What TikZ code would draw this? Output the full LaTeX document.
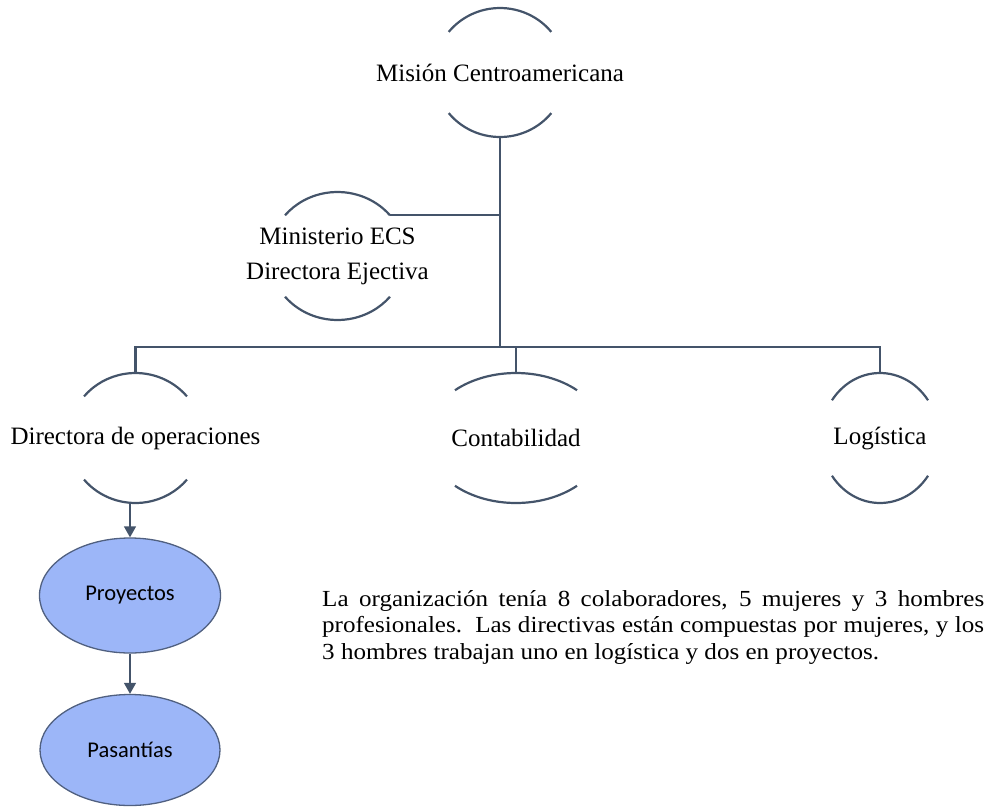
\documentclass[tikz,border=0pt]{standalone}
\usepackage{fontspec}
\setmainfont{Liberation Serif}
\newfontfamily\calfont{Carlito}
\newfontfamily\parafont[FakeStretch=1.09]{Liberation Serif}
\usetikzlibrary{shapes.geometric,arrows.meta,calc}
\definecolor{linec}{RGB}{68,84,106}
\definecolor{ellfill}{RGB}{156,182,248}
\definecolor{elldraw}{RGB}{80,96,128}
% #1 node name, #2 x radius, #3 y radius, #4 half angle from vertical
\newcommand\unitarcs[4]{%
  \draw[arcline] ($(#1.center)+({#2*sin(#4)},{#3*cos(#4)})$)
    arc[start angle={90-#4}, end angle={90+#4}, x radius=#2pt, y radius=#3pt];
  \draw[arcline] ($(#1.center)+({-#2*sin(#4)},{-#3*cos(#4)})$)
    arc[start angle={270-#4}, end angle={270+#4}, x radius=#2pt, y radius=#3pt];
}
\begin{document}
\begin{tikzpicture}[x=1pt,y=1pt,
  unitshape/.style={ellipse, inner sep=0pt, outer sep=0pt},
  unittext/.style={inner sep=0pt, align=center, font=\fontsize{25}{35}\selectfont},
  arcline/.style={draw=linec, line width=2.2pt},
  conn/.style={draw=linec, line width=2.2pt},
  bubble/.style={ellipse, draw=elldraw, line width=1.3pt, fill=ellfill, inner sep=0pt,
    font=\calfont\fontsize{22.5}{27}\selectfont},
  arr/.style={draw=linec, line width=1.3pt, -{Triangle[width=12pt,length=11pt]}},
  para/.style={anchor=north west, inner sep=0pt, text width=662pt, align=justify,
    font=\parafont\fontsize{23}{26.5}\selectfont}]
\path[use as bounding box] (0,0) rectangle (989,-807);

% units (invisible ellipses carrying the anchors)
\node[unitshape, minimum width=132pt, minimum height=129pt] (mis) at (500,-72.5) {};
\node[unitshape, minimum width=136pt, minimum height=128pt] (min) at (337.5,-256) {};
\node[unitshape, minimum width=134pt, minimum height=130pt] (dir) at (135.5,-438) {};
\node[unitshape, minimum width=180pt, minimum height=130pt] (con) at (516,-438) {};
\node[unitshape, minimum width=118pt, minimum height=130pt] (log) at (880,-438) {};

\node[unittext] (mist) at (mis.center) {Misión Centroamericana};
\node[unittext] (mint) at (min.center) {Ministerio ECS\\Directora Ejectiva};
\node[unittext] (dirt) at (dir.center) {Directora de operaciones};
\node[unittext] (cont) at (con.center) {Contabilidad};
\node[unittext] (logt) at (log.center) {Logística};

\unitarcs{mis}{66}{64.5}{51}
\unitarcs{min}{68}{64}{50.5}
\unitarcs{dir}{67}{65}{50.2}
\unitarcs{con}{90}{65}{42.7}
\unitarcs{log}{59}{65}{54.5}

% connectors
\coordinate (bus) at (500,-347);
\coordinate (minR) at ($(min.center)+({68*sin(50.5)},{64*cos(50.5)})$);
\draw[conn] (mis.south) -- (bus);
\draw[conn] (minR) -- (minR -| bus);
\draw[conn] (dir.north) -- (dir.north |- bus) -- (log.north |- bus) -- (log.north);
\draw[conn] (con.north) -- (con.north |- bus);

% bubbles
\node[bubble, minimum width=181pt, minimum height=115pt] (pro) at (130,-595.5) {Proyectos};
\node[bubble, minimum width=180pt, minimum height=111pt] (pas) at (130,-750) {Pasantías};
\draw[arr] (dir.south -| pro.north) -- (pro.north);
\draw[arr] (pro.south) -- (pas.north);

% paragraph
\node[para] (txt) at (322,-590) {La organización tenía 8 colaboradores, 5 mujeres y 3 hombres\linebreak
profesionales.\ \ Las directivas están compuestas por mujeres, y los\linebreak
3 hombres trabajan uno en logística y dos en proyectos.};
\end{tikzpicture}
\end{document}
